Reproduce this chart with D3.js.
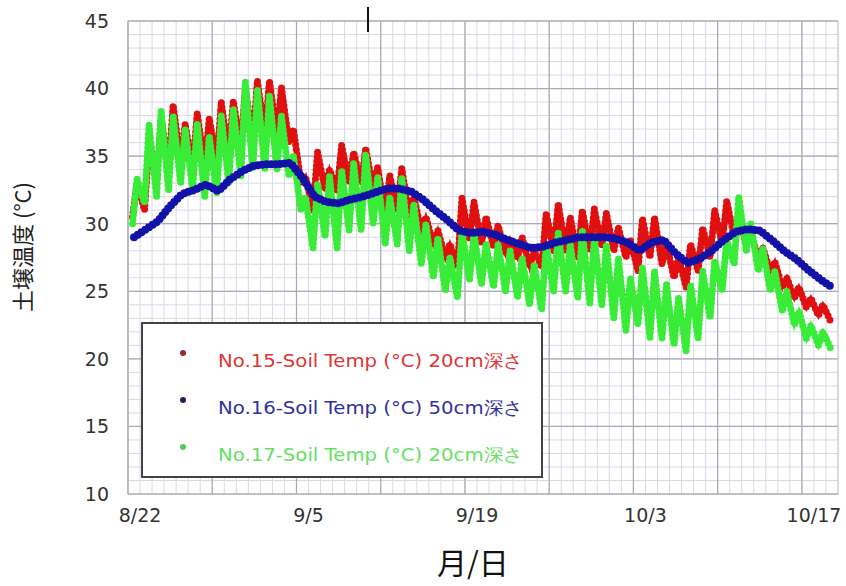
<!DOCTYPE html>
<html>
<head>
<meta charset="utf-8">
<script src="https://cdn.jsdelivr.net/npm/d3@7"></script>
<style>
  body { margin: 0; background: #fff; }
  text { font-family: "DejaVu Sans", sans-serif; }
</style>
</head>
<body>
<svg id="chart" width="846" height="586"></svg>
<script>
// daily readings, 8/21 .. 10/18 (min around 9h, max around 18h)
const no15Min = [30.5, 31.0, 33.0, 34.0, 34.5, 34.0, 34.2, 34.5, 35.0, 35.5, 36.0,
  36.5, 36.5, 36.0, 33.0, 31.0, 32.5, 32.5, 33.0, 33.0, 32.5, 30.5, 31.0, 30.5, 29.5,
  28.5, 27.5, 26.8, 28.8, 28.5, 28.3, 27.8, 27.5, 26.8, 26.8, 28.0, 28.0, 27.5, 28.0,
  28.3, 28.0, 27.5, 26.5, 27.5, 27.0, 26.0, 25.3, 26.5, 27.5, 28.5, 29.0, 28.5, 27.5,
  26.5, 25.3, 24.5, 23.8, 23.2, 22.8];
const no15Max = [33.0, 36.0, 37.8, 38.8, 37.4, 38.2, 37.8, 39.0, 39.1, 40.0, 40.6,
  40.6, 40.1, 37.0, 33.5, 35.3, 34.0, 35.8, 35.3, 35.6, 34.2, 33.6, 34.1, 32.0, 30.5,
  29.5, 28.5, 31.9, 31.6, 30.5, 29.9, 28.8, 29.0, 28.0, 30.8, 31.5, 30.5, 31.0, 31.1,
  30.8, 29.7, 28.8, 30.4, 30.5, 28.5, 27.5, 28.5, 29.7, 31.0, 31.7, 30.5, 29.3, 28.2,
  27.2, 26.0, 25.3, 24.5, 24.0, null];
const no17Min = [30.0, 31.5, 32.0, 32.5, 33.0, 32.5, 32.0, 32.2, 33.0, 33.5, 34.0,
  34.0, 34.0, 33.5, 31.0, 28.2, 29.0, 28.2, 29.5, 29.5, 30.0, 28.5, 28.5, 28.0, 27.0,
  26.0, 25.0, 24.5, 25.8, 25.5, 25.3, 25.0, 24.5, 24.0, 23.6, 25.0, 25.0, 24.5, 24.1,
  24.0, 23.0, 22.1, 22.5, 21.6, 21.5, 21.0, 20.6, 21.5, 23.0, 25.0, 27.0, 28.0, 26.5,
  25.0, 23.5, 22.5, 21.5, 21.0, 20.8];
const no17Max = [33.3, 37.3, 38.4, 38.0, 37.0, 37.5, 36.5, 38.0, 38.5, 40.5, 40.0,
  39.5, 38.0, 35.0, 32.0, 33.0, 33.5, 34.0, 34.5, 35.2, 33.5, 32.0, 33.4, 31.5, 30.0,
  29.0, 27.5, 29.5, 29.3, 28.5, 28.5, 28.0, 27.5, 27.0, 28.5, 29.3, 28.5, 29.5, 29.0,
  28.5, 27.5, 26.0, 26.8, 26.5, 25.5, 24.5, 25.5, 26.5, 27.3, 28.8, 32.0, 30.0, 28.2,
  26.5, 25.0, 23.5, 22.5, 22.0, null];
// 50cm sensor, one reading per day at noon
const no16 = [29.0, 29.6, 30.2, 31.3, 32.2, 32.5, 32.9, 32.4, 33.3, 33.9, 34.3,
  34.4, 34.4, 34.5, 33.4, 32.0, 31.6, 31.5, 31.8, 32.0, 32.3, 32.6, 32.6, 32.4, 31.8,
  31.0, 30.3, 29.5, 29.3, 29.4, 29.2, 28.8, 28.5, 28.2, 28.3, 28.6, 28.8, 29.0, 29.0,
  29.0, 28.9, 28.6, 28.0, 28.6, 28.8, 27.8, 27.1, 27.4, 28.0, 28.8, 29.4, 29.6, 29.5,
  28.8, 28.0, 27.4, 26.6, 25.9, 25.3];

const tickDates = ["8/22", "9/5", "9/19", "10/3", "10/17"];
const yTicks = [10, 15, 20, 25, 30, 35, 40, 45];
const legendLabels = [
  "No.15-Soil Temp (°C) 20cm深さ",
  "No.16-Soil Temp (°C) 50cm深さ",
  "No.17-Soil Temp (°C) 20cm深さ",
];

const year = 2020;
const parseMD = (s) => { const [m, d] = s.split("/").map(Number); return new Date(year, m - 1, d); };
const start = parseMD("8/21"), end = parseMD("10/19");
const days = d3.timeDay.range(start, end);

const svg = d3.select("#chart");
const pl = 128, pr = 838, pt = 21, pb = 494;

const x = d3.scaleTime().domain([start, end]).range([pl, pr]);
const y = d3.scaleLinear().domain([10, 45]).range([pb, pt]);

// grid
const grid = svg.append("g");
grid.selectAll("line.vmin").data(days).join("line")
  .attr("x1", (d) => x(d)).attr("x2", (d) => x(d))
  .attr("y1", pt).attr("y2", pb)
  .attr("stroke", "#d9d9e4").attr("stroke-width", 1);
grid.selectAll("line.hmin").data(d3.range(10, 46)).join("line")
  .attr("y1", (d) => y(d)).attr("y2", (d) => y(d))
  .attr("x1", pl).attr("x2", pr)
  .attr("stroke", "#d9d9e4").attr("stroke-width", 1);
grid.selectAll("line.vmaj").data(d3.timeDay.range(start, end, 7)).join("line")
  .attr("x1", (d) => x(d)).attr("x2", (d) => x(d))
  .attr("y1", pt).attr("y2", pb)
  .attr("stroke", "#a8a8b8").attr("stroke-width", 1.2);
grid.selectAll("line.hmaj").data(yTicks).join("line")
  .attr("y1", (d) => y(d)).attr("y2", (d) => y(d))
  .attr("x1", pl).attr("x2", pr)
  .attr("stroke", "#a8a8b8").attr("stroke-width", 1.2);
grid.append("rect").attr("x", pl).attr("y", pt)
  .attr("width", pr - pl).attr("height", pb - pt)
  .attr("fill", "none").attr("stroke", "#b4b4c0");

// tick labels
svg.append("g").selectAll("text").data(yTicks).join("text")
  .attr("x", 109).attr("y", (d) => y(d)).attr("dy", "0.36em")
  .attr("text-anchor", "end").attr("font-size", 19).attr("fill", "#333")
  .text((d) => d);
svg.append("g").selectAll("text").data(tickDates).join("text")
  .attr("x", (d) => x(parseMD(d))).attr("y", 522)
  .attr("text-anchor", "middle").attr("font-size", 19).attr("fill", "#333")
  .text((d) => d);

// axis titles
svg.append("text").attr("transform", "translate(31,247) rotate(-90)")
  .attr("text-anchor", "middle").attr("font-size", 22)
  .style("font-family", "'Noto Sans CJK JP', sans-serif").attr("fill", "#222")
  .text("土壌温度 (°C)");
svg.append("text").attr("x", 473).attr("y", 574)
  .attr("text-anchor", "middle").attr("font-size", 30)
  .style("font-family", "'Noto Sans CJK JP', sans-serif").attr("fill", "#111")
  .text("月/日");

// small mark above the plot
svg.append("line").attr("x1", 368).attr("x2", 368).attr("y1", 7).attr("y2", 32)
  .attr("stroke", "#111").attr("stroke-width", 2);

// series
const diurnal = (mins, maxs) => {
  const pts = [];
  days.forEach((d, i) => {
    if (mins[i] != null) pts.push([d3.timeHour.offset(d, 9), mins[i]]);
    if (maxs[i] != null) pts.push([d3.timeHour.offset(d, 18), maxs[i]]);
  });
  return pts;
};
const series = [
  { name: legendLabels[0], pts: diurnal(no15Min, no15Max), color: "#e01010", text: "#dd3535", mark: "#9a2a2a", w: 7, z: 0 },
  { name: legendLabels[1], pts: days.map((d, i) => [d3.timeHour.offset(d, 12), no16[i]]), color: "#1212a8", text: "#3030a0", mark: "#20206a", w: 8, z: 2 },
  { name: legendLabels[2], pts: diurnal(no17Min, no17Max), color: "#38ec38", text: "#66e066", mark: "#55cc55", w: 7, z: 1 },
];

const line = d3.line().x((d) => x(d[0])).y((d) => y(d[1]));
const plot = svg.append("g");
series.slice().sort((a, b) => a.z - b.z).forEach((s) => {
  plot.append("path").attr("d", line(s.pts)).attr("fill", "none")
    .attr("stroke", s.color).attr("stroke-width", s.w - 3.5);
  plot.append("path").attr("d", line(s.pts)).attr("fill", "none")
    .attr("stroke", s.color).attr("stroke-width", s.w)
    .attr("stroke-linecap", "round").attr("stroke-dasharray", "0 4.5");
});

// legend
const lg = svg.append("g");
lg.append("rect").attr("x", 142).attr("y", 323).attr("width", 400).attr("height", 154)
  .attr("fill", "#fff").attr("stroke", "#444").attr("stroke-width", 2);
const rows = lg.selectAll("g.row").data(series).join("g").attr("class", "row")
  .attr("transform", (d, i) => `translate(0,${353 + i * 47})`);
rows.append("circle").attr("cx", 183).attr("cy", 0).attr("r", 3).attr("fill", (d) => d.mark);
rows.append("text").attr("x", 218).attr("y", 14).attr("font-size", 18)
  .attr("textLength", 305).attr("lengthAdjust", "spacingAndGlyphs")
  .attr("fill", (d) => d.text).text((d) => d.name);
</script>
</body>
</html>
